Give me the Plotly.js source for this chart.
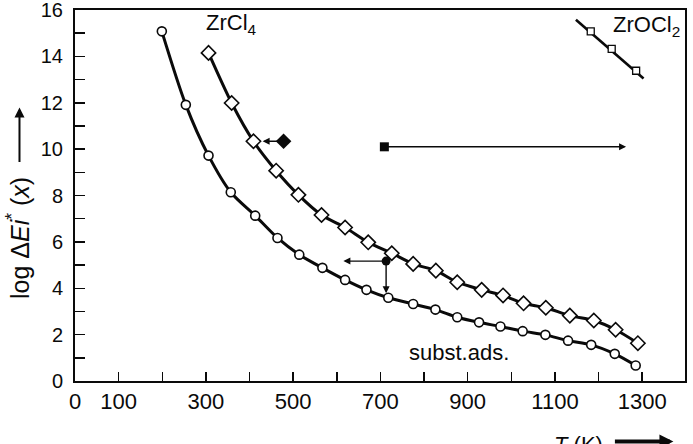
<!DOCTYPE html>
<html>
<head>
<meta charset="utf-8">
<script src="https://cdn.plot.ly/plotly-3.0.1.min.js"></script>
<style>html,body{margin:0;padding:0;background:#fff;}#chart{width:693px;height:444px;}</style>
</head>
<body>
<div id="chart"></div>
<script>
// Data
const T_subst = [199,254,306,357,413,464,514,567,619,668,718,775,826,876,926,975,1026,1078,1130,1183,1237,1285];
const logE_subst = [15.08,11.91,9.72,8.14,7.13,6.17,5.45,4.88,4.36,3.93,3.59,3.32,3.08,2.75,2.53,2.35,2.15,1.99,1.74,1.56,1.17,0.67];

const T_ZrCl4 = [306,359,409,461,512,565,619,672,726,775,827,876,932,981,1028,1079,1134,1189,1239,1290];
const logE_ZrCl4 = [14.15,11.99,10.34,9.07,8.03,7.16,6.62,5.98,5.51,5.05,4.76,4.26,3.93,3.69,3.35,3.16,2.82,2.61,2.21,1.63];

const T_ZrOCl2 = [1182,1230,1286];
const logE_ZrOCl2 = [15.08,14.32,13.38];
const T_ZrOCl2_line = [1148,1303];
const logE_ZrOCl2_line = [15.58,13.05];

const T_solidDiamond = [478];
const logE_solidDiamond = [10.34];
const T_solidSquare = [709];
const logE_solidSquare = [10.1];
const T_solidDot = [713];
const logE_solidDot = [5.17];

const arrowTailT = [478, 709, 713, 713];
const arrowTailLog = [10.34, 10.1, 5.17, 5.17];
const arrowHeadT = [430, 1263, 615, 713];
const arrowHeadLog = [10.34, 10.1, 5.17, 3.78];

const xTickVals = [0,100,200,300,400,500,600,700,800,900,1000,1100,1200,1300];
const xTickText = ['0','100','','300','','500','','700','','900','','1100','','1300'];
const yTickVals = [0,2,4,6,8,10,12,14,16];
const yTickText = ['0','2','4','6','8','10','12','14','16'];

const labels = [
  {text:'ZrCl<sub>4</sub>', T:296, logE:15.4},
  {text:'ZrOCl<sub>2</sub>', T:1229, logE:15.3},
  {text:'subst.ads.', T:760, logE:1.25}
];

const FONT = 'Liberation Sans, Arial, Helvetica, sans-serif';
const INK = '#0a0a0a';

const traces = [
  {x:T_subst, y:logE_subst, mode:'lines+markers', type:'scatter',
   line:{color:INK, width:3, shape:'spline', smoothing:0.8},
   marker:{symbol:'circle', size:9, color:'#fff', line:{color:INK, width:1.6}}},
  {x:T_ZrCl4, y:logE_ZrCl4, mode:'lines+markers', type:'scatter',
   line:{color:INK, width:3, shape:'spline', smoothing:0.8},
   marker:{symbol:'diamond', size:11, color:'#fff', line:{color:INK, width:1.6}}},
  {x:T_ZrOCl2_line, y:logE_ZrOCl2_line, mode:'lines', type:'scatter',
   line:{color:INK, width:2.6}},
  {x:T_ZrOCl2, y:logE_ZrOCl2, mode:'markers', type:'scatter',
   marker:{symbol:'square', size:7, color:'#fff', line:{color:INK, width:1.3}}},
  {x:T_solidDiamond, y:logE_solidDiamond, mode:'markers', type:'scatter',
   marker:{symbol:'diamond', size:12, color:INK}},
  {x:T_solidSquare, y:logE_solidSquare, mode:'markers', type:'scatter',
   marker:{symbol:'square', size:9, color:INK}},
  {x:T_solidDot, y:logE_solidDot, mode:'markers', type:'scatter',
   marker:{symbol:'circle', size:9, color:INK}}
];

const annotations = [];
for (let i = 0; i < arrowTailT.length; i++) {
  annotations.push({x:arrowHeadT[i], y:arrowHeadLog[i], ax:arrowTailT[i], ay:arrowTailLog[i],
    xref:'x', yref:'y', axref:'x', ayref:'y', text:'', showarrow:true,
    arrowhead:2, arrowsize:1, arrowwidth:1.4, arrowcolor:INK, standoff:0, startstandoff:0});
}
labels.forEach(l => annotations.push({x:l.T, y:l.logE, xref:'x', yref:'y', text:l.text,
  showarrow:false, xanchor:'left', yanchor:'middle', font:{family:FONT, size:22, color:INK}}));
// y-axis title (placed like the reference, below its arrow)
annotations.push({xref:'paper', yref:'paper', x:-0.093, y:0.386, text:'log Δ<i>Ei</i><sup>*</sup> (<i>x</i>)',
  textangle:-90, showarrow:false, xanchor:'center', yanchor:'middle', font:{family:FONT, size:25, color:INK}});
// y-axis arrow
annotations.push({xref:'paper', yref:'paper', x:-0.091, y:0.737, ax:0, ay:56, text:'',
  showarrow:true, arrowhead:2, arrowsize:1, arrowwidth:2, arrowcolor:INK, standoff:0});
// x-axis title with arrow
annotations.push({xref:'paper', yref:'paper', x:0.782, y:-0.171, text:'<i>T</i> (K)',
  showarrow:false, xanchor:'left', yanchor:'middle', font:{family:FONT, size:22, color:INK}});
annotations.push({xref:'paper', yref:'paper', x:0.981, y:-0.163, ax:-60, ay:0, text:'',
  showarrow:true, arrowhead:2, arrowsize:0.7, arrowwidth:4, arrowcolor:INK, standoff:0});

const layout = {
  width:693, height:444,
  margin:{l:75, r:8, t:10, b:63},
  paper_bgcolor:'#fff', plot_bgcolor:'#fff',
  showlegend:false,
  font:{family:FONT, color:INK},
  xaxis:{range:[0,1398], showline:true, linewidth:2, linecolor:INK, mirror:true,
    ticks:'inside', ticklen:9, tickwidth:1.5, tickcolor:INK,
    tickvals:xTickVals, ticktext:xTickText, tickfont:{family:FONT, size:22, color:INK},
    ticklabeloverflow:'allow', showgrid:false, zeroline:false},
  yaxis:{range:[0,16.0001], showline:true, linewidth:2, linecolor:INK, mirror:true,
    ticks:'inside', ticklen:10, tickwidth:1.5, tickcolor:INK,
    tickvals:yTickVals, ticktext:yTickText, ticklabelstandoff:6, ticklabeloverflow:'allow',
    minor:{dtick:1, ticks:'inside', ticklen:10, tickwidth:1.5, tickcolor:INK, showgrid:false},
    tickfont:{family:FONT, size:20, color:INK}, showgrid:false, zeroline:false},
  annotations:annotations
};

Plotly.newPlot('chart', traces, layout, {displayModeBar:false, staticPlot:true});
</script>
</body>
</html>
